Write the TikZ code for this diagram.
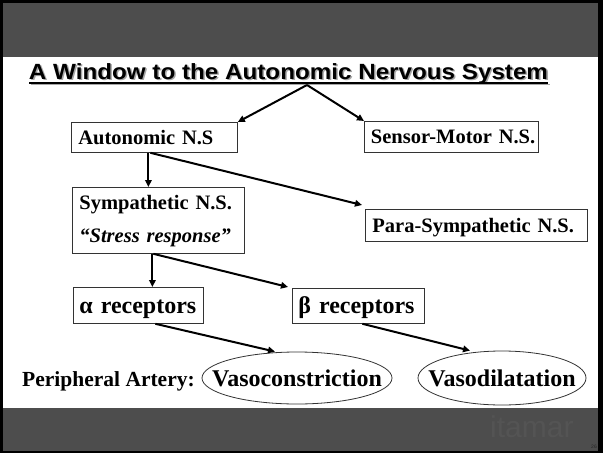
\documentclass[tikz,border=0pt]{standalone}
\usepackage{fontspec}
\usepackage{graphicx}
\setmainfont{Liberation Serif}
\newfontfamily\titlefont{Liberation Sans}
\usetikzlibrary{arrows.meta,shapes.geometric,calc}

\definecolor{band}{HTML}{4D4D4D}
\definecolor{logo}{HTML}{545454}
\definecolor{frameline}{HTML}{333333}

\tikzset{
  arr/.style={line width=2pt,-{Triangle[length=7pt,width=6.5pt]}},
  boxnode/.style={draw=frameline,line width=0.8pt,anchor=north west,inner xsep=6pt,inner ysep=0pt,
    align=left,font=\fontsize{20.5}{24}\selectfont\bfseries,text height=13.6pt,text depth=0pt},
  bigbox/.style={boxnode,font=\fontsize{24}{28}\selectfont\bfseries,text height=16pt},
  oval/.style={ellipse,draw=frameline,line width=0.8pt,inner xsep=-40pt,inner ysep=0pt,
    font=\fontsize{24}{28}\selectfont\bfseries,text height=16pt,text depth=0pt},
}

\newcommand{\titletext}{\titlefont\bfseries\fontsize{22}{26}\selectfont
  \resizebox{519pt}{\height}{A Window to the Autonomic Nervous System}}

\begin{document}
\begin{tikzpicture}[x=1pt,y=-1pt]
  % slide frame and bands
  \fill[black] (0,0) rectangle (603,453);
  \fill[white] (3,3) rectangle (598,451);
  \fill[band] (3,3) rectangle (598,57);
  \fill[band] (3,408) rectangle (598,451);
  \useasboundingbox (0,0) rectangle (603,453);

  % title with soft shadow and underline
  \node[anchor=base,text=black!35,inner sep=0pt] (titleshadow) at (290,80.5) {\titletext};
  \draw[black!35,line width=1.5pt] (30.5,84.5) -- (549.5,84.5);
  \node[anchor=base,inner sep=0pt] (title) at (288.5,79) {\titletext};
  \draw[black,line width=1.5pt] (29,83) -- (548,83);
  \coordinate (apex) at (307,85);

  % boxes
  \node[boxnode,minimum width=166pt,minimum height=30pt,text width=152pt] (auto) at (71,122) {\mbox{Autonomic N.S}};
  \node[boxnode,minimum width=174pt,minimum height=31pt,text width=161pt,inner xsep=5.5pt] (sensor) at (364,121) {\mbox{Sensor-Motor N.S.}};
  \node[boxnode,minimum width=172pt,minimum height=66pt,text width=158pt,text height=,text depth=,
        font=\fontsize{20.5}{33}\selectfont\bfseries] (sym) at (72,187)
        {\rule{0pt}{16pt}Sympathetic N.S.\\ \textit{“Stress response”}};
  \node[boxnode,minimum width=222pt,minimum height=32pt,text width=208pt,inner xsep=4pt] (para) at (365,209) {\mbox{Para-Sympathetic N.S.}};
  \node[bigbox,minimum width=130pt,minimum height=36pt,text width=118pt,inner xsep=5pt] (alpha) at (73,287) {\mbox{α receptors}};
  \node[bigbox,minimum width=132pt,minimum height=35pt,text width=120pt,inner xsep=5pt] (beta) at (292,288) {\mbox{β receptors}};

  % outcome ovals
  \node[anchor=base west,inner sep=0pt,font=\fontsize{21.5}{26}\selectfont\bfseries] (periph) at (22,386) {Peripheral Artery:};
  \node[oval,minimum width=190pt,minimum height=52pt] (vcon) at (297,378) {Vasoconstriction};
  \node[oval,minimum width=168pt,minimum height=54pt] (vdil) at (502,378) {Vasodilatation};

  % connectors
  \draw[arr] (apex) -- (auto.north east);
  \draw[arr] (apex) -- (sensor.north west);
  \draw[arr] ([xshift=-6pt]auto.south) -- ([xshift=-6pt]auto.south |- sym.north);
  \draw[arr] ([xshift=-4pt]auto.south) -- ([xshift=-3pt,yshift=4pt]para.north west);
  \draw[arr] ([xshift=-6pt]sym.south) -- ([xshift=-6pt]sym.south |- alpha.north);
  \draw[arr] ([xshift=-5pt]sym.south) -- ([xshift=-4pt,yshift=1pt]beta.north west);
  \draw[arr] ([xshift=17pt]alpha.south) -- ([xshift=-22pt]vcon.north);
  \draw[arr] ([xshift=4pt]beta.south) -- ([xshift=-32pt]vdil.north);

  % footer logo and page number
  \node[anchor=base west,inner sep=0pt,text=logo,font=\titlefont\fontsize{30}{34}\selectfont] (logo) at (490,437) {itamar};
  \node[inner sep=0pt,text=black!85,font=\titlefont\fontsize{5}{6}\selectfont] (pagenum) at (594,447) {26};
\end{tikzpicture}
\end{document}
